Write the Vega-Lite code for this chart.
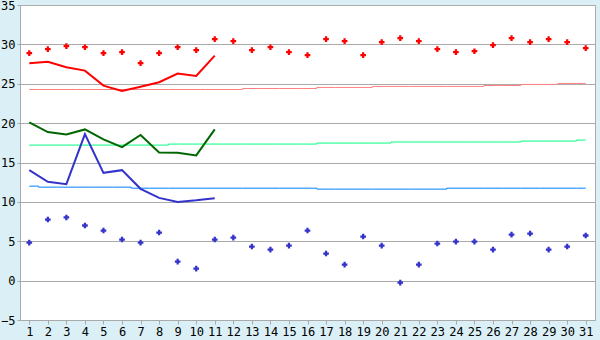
{
  "$schema": "https://vega.github.io/schema/vega-lite/v6.json",
  "width": 575,
  "height": 315,
  "autosize": "none",
  "padding": {"left": 20, "top": 5, "right": 5, "bottom": 20},
  "background": "#daf0f6",
  "config": {
    "view": {"fill": "white", "stroke": "#aaaaaa", "strokeWidth": 1},
    "axis": {
      "labelFont": "DejaVu Sans Mono",
      "labelFontSize": 12,
      "labelColor": "black",
      "tickColor": "#aaaaaa",
      "domainColor": "#aaaaaa",
      "gridColor": "#aaaaaa",
      "tickSize": 3,
      "labelPadding": 2,
      "labelOverlap": false,
      "labelFlush": false,
      "title": null
    }
  },
  "data": {
    "values": [
      {"day": 1, "tmax": 28.88, "tmin": 4.83, "lmax": 27.6, "lmean": 20.1, "lmin": 14.03, "nmax": 24.27, "nmean": 17.21, "nmin": 12.0},
      {"day": 2, "tmax": 29.39, "tmin": 7.76, "lmax": 27.8, "lmean": 18.87, "lmin": 12.55, "nmax": 24.27, "nmean": 17.21, "nmin": 11.87},
      {"day": 3, "tmax": 29.77, "tmin": 8.02, "lmax": 27.1, "lmean": 18.57, "lmin": 12.25, "nmax": 24.27, "nmean": 17.21, "nmin": 11.87},
      {"day": 4, "tmax": 29.64, "tmin": 7.0, "lmax": 26.67, "lmean": 19.2, "lmin": 18.6, "nmax": 24.27, "nmean": 17.21, "nmin": 11.87},
      {"day": 5, "tmax": 28.88, "tmin": 6.36, "lmax": 24.76, "lmean": 17.94, "lmin": 13.69, "nmax": 24.27, "nmean": 17.21, "nmin": 11.87},
      {"day": 6, "tmax": 29.01, "tmin": 5.22, "lmax": 24.08, "lmean": 16.96, "lmin": 14.03, "nmax": 24.27, "nmean": 17.21, "nmin": 11.87},
      {"day": 7, "tmax": 27.61, "tmin": 4.83, "lmax": 24.63, "lmean": 18.49, "lmin": 11.66, "nmax": 24.27, "nmean": 17.21, "nmin": 11.74},
      {"day": 8, "tmax": 28.88, "tmin": 6.11, "lmax": 25.19, "lmean": 16.28, "lmin": 10.51, "nmax": 24.27, "nmean": 17.21, "nmin": 11.74},
      {"day": 9, "tmax": 29.64, "tmin": 2.42, "lmax": 26.29, "lmean": 16.24, "lmin": 10.0, "nmax": 24.27, "nmean": 17.34, "nmin": 11.74},
      {"day": 10, "tmax": 29.26, "tmin": 1.53, "lmax": 25.99, "lmean": 15.9, "lmin": 10.2, "nmax": 24.27, "nmean": 17.34, "nmin": 11.74},
      {"day": 11, "tmax": 30.66, "tmin": 5.22, "lmax": 28.58, "lmean": 19.2, "lmin": 10.47, "nmax": 24.27, "nmean": 17.34, "nmin": 11.74},
      {"day": 12, "tmax": 30.41, "tmin": 5.47, "lmax": null, "lmean": null, "lmin": null, "nmax": 24.27, "nmean": 17.34, "nmin": 11.74},
      {"day": 13, "tmax": 29.26, "tmin": 4.33, "lmax": null, "lmean": null, "lmin": null, "nmax": 24.4, "nmean": 17.34, "nmin": 11.74},
      {"day": 14, "tmax": 29.64, "tmin": 3.94, "lmax": null, "lmean": null, "lmin": null, "nmax": 24.4, "nmean": 17.34, "nmin": 11.74},
      {"day": 15, "tmax": 29.01, "tmin": 4.45, "lmax": null, "lmean": null, "lmin": null, "nmax": 24.4, "nmean": 17.34, "nmin": 11.74},
      {"day": 16, "tmax": 28.63, "tmin": 6.36, "lmax": null, "lmean": null, "lmin": null, "nmax": 24.4, "nmean": 17.34, "nmin": 11.74},
      {"day": 17, "tmax": 30.66, "tmin": 3.44, "lmax": null, "lmean": null, "lmin": null, "nmax": 24.53, "nmean": 17.47, "nmin": 11.62},
      {"day": 18, "tmax": 30.41, "tmin": 2.04, "lmax": null, "lmean": null, "lmin": null, "nmax": 24.53, "nmean": 17.47, "nmin": 11.62},
      {"day": 19, "tmax": 28.63, "tmin": 5.6, "lmax": null, "lmean": null, "lmin": null, "nmax": 24.53, "nmean": 17.47, "nmin": 11.62},
      {"day": 20, "tmax": 30.28, "tmin": 4.45, "lmax": null, "lmean": null, "lmin": null, "nmax": 24.66, "nmean": 17.47, "nmin": 11.62},
      {"day": 21, "tmax": 30.79, "tmin": -0.25, "lmax": null, "lmean": null, "lmin": null, "nmax": 24.66, "nmean": 17.6, "nmin": 11.62},
      {"day": 22, "tmax": 30.41, "tmin": 2.04, "lmax": null, "lmean": null, "lmin": null, "nmax": 24.66, "nmean": 17.6, "nmin": 11.62},
      {"day": 23, "tmax": 29.39, "tmin": 4.71, "lmax": null, "lmean": null, "lmin": null, "nmax": 24.66, "nmean": 17.6, "nmin": 11.62},
      {"day": 24, "tmax": 29.01, "tmin": 4.96, "lmax": null, "lmean": null, "lmin": null, "nmax": 24.66, "nmean": 17.6, "nmin": 11.74},
      {"day": 25, "tmax": 29.13, "tmin": 4.96, "lmax": null, "lmean": null, "lmin": null, "nmax": 24.66, "nmean": 17.6, "nmin": 11.74},
      {"day": 26, "tmax": 29.9, "tmin": 3.94, "lmax": null, "lmean": null, "lmin": null, "nmax": 24.78, "nmean": 17.6, "nmin": 11.74},
      {"day": 27, "tmax": 30.79, "tmin": 5.85, "lmax": null, "lmean": null, "lmin": null, "nmax": 24.78, "nmean": 17.6, "nmin": 11.74},
      {"day": 28, "tmax": 30.28, "tmin": 5.98, "lmax": null, "lmean": null, "lmin": null, "nmax": 24.91, "nmean": 17.72, "nmin": 11.74},
      {"day": 29, "tmax": 30.66, "tmin": 3.94, "lmax": null, "lmean": null, "lmin": null, "nmax": 24.91, "nmean": 17.72, "nmin": 11.74},
      {"day": 30, "tmax": 30.28, "tmin": 4.33, "lmax": null, "lmean": null, "lmin": null, "nmax": 25.04, "nmean": 17.72, "nmin": 11.74},
      {"day": 31, "tmax": 29.52, "tmin": 5.73, "lmax": null, "lmean": null, "lmin": null, "nmax": 25.04, "nmean": 17.85, "nmin": 11.74}
    ]
  },
  "encoding": {
    "x": {
      "field": "day",
      "type": "ordinal",
      "scale": {"type": "point", "padding": 0.5},
      "axis": {"labelAngle": 0, "grid": false, "tickSize": 4}
    },
    "y": {
      "type": "quantitative",
      "scale": {"domain": [-5, 35], "nice": false, "zero": false},
      "axis": {"tickCount": 40, "tickMinStep": 5, "grid": true}
    }
  },
  "layer": [
    {
      "mark": {"type": "line", "interpolate": "step", "color": "#ff8080", "strokeWidth": 1},
      "encoding": {"y": {"field": "nmax", "type": "quantitative"}}
    },
    {
      "mark": {"type": "line", "interpolate": "step", "color": "#00ff80", "strokeWidth": 1},
      "encoding": {"y": {"field": "nmean", "type": "quantitative"}}
    },
    {
      "mark": {"type": "line", "interpolate": "step", "color": "#0080ff", "strokeWidth": 1},
      "encoding": {"y": {"field": "nmin", "type": "quantitative"}}
    },
    {
      "mark": {"type": "line", "color": "#ff0000", "strokeWidth": 2},
      "encoding": {"y": {"field": "lmax", "type": "quantitative"}}
    },
    {
      "mark": {"type": "line", "color": "#006600", "strokeWidth": 2},
      "encoding": {"y": {"field": "lmean", "type": "quantitative"}}
    },
    {
      "mark": {"type": "line", "color": "#3333cc", "strokeWidth": 2},
      "encoding": {"y": {"field": "lmin", "type": "quantitative"}}
    },
    {
      "mark": {"type": "point", "shape": "cross", "filled": true, "size": 32, "color": "#ff0000", "opacity": 1},
      "encoding": {"y": {"field": "tmax", "type": "quantitative"}}
    },
    {
      "mark": {"type": "point", "shape": "cross", "filled": true, "size": 32, "color": "#3333cc", "opacity": 1},
      "encoding": {"y": {"field": "tmin", "type": "quantitative"}}
    }
  ]
}
